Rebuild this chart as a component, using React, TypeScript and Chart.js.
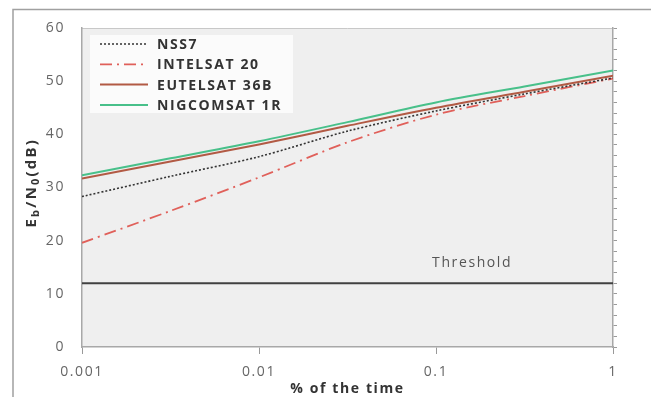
import React, { useEffect, useRef } from 'react';
import { Chart, registerables } from 'chart.js';
Chart.register(...registerables);

// ---- data ----
const timePercent = [0.001, 0.00316, 0.01, 0.0316, 0.1, 0.316, 1];
const xTickValues = [0.001, 0.01, 0.1, 1];
const xTickLabels = ['0.001', '0.01', '0.1', '1'];
const seriesNames = ['NSS7', 'INTELSAT 20', 'EUTELSAT 36B', 'NIGCOMSAT 1R'];
const nss7 = [28.3, 32.1, 35.8, 40.6, 44.4, 47.6, 50.6];
const intelsat20 = [19.6, 25.6, 31.9, 38.5, 43.7, 47.2, 50.5];
const eutelsat36b = [31.7, 34.9, 38.1, 41.6, 45.0, 48.0, 51.0];
const nigcomsat1r = [32.3, 35.5, 38.7, 42.3, 46.0, 49.0, 52.0];
const thresholdX = [0.001, 1];
const thresholdY = [12, 12];
const thresholdLabel = 'Threshold';
const thresholdLabelAt = 0.16;
const xTitle = '% of the time';
const yMin = 0;
const yMax = 60;

const FONT = "'Open Sans', sans-serif";
const seriesValues = [nss7, intelsat20, eutelsat36b, nigcomsat1r];
const seriesColors = ['#333333', '#e0605a', '#b25a44', '#48c08a'];
const seriesDash = [[2, 2], [12, 5, 2, 5], [], []];
const seriesWidth = [1.6, 1.8, 2, 2];
const seriesOrder = [2, 3, 1, 0];

const framePlugin = {
  id: 'frame',
  beforeDraw(chart: any) {
    const { ctx, chartArea: a } = chart;
    ctx.letterSpacing = '1.6px';
    ctx.save();
    ctx.strokeStyle = '#a0a0a0';
    ctx.lineWidth = 1.5;
    ctx.beginPath();
    ctx.moveTo(13, 397);
    ctx.lineTo(13, 9.5);
    ctx.lineTo(651, 9.5);
    ctx.stroke();
    ctx.fillStyle = '#efefef';
    ctx.fillRect(a.left, a.top, a.right - a.left, a.bottom - a.top);
    ctx.strokeStyle = '#c8c8c8';
    ctx.lineWidth = 1;
    ctx.beginPath();
    ctx.moveTo(a.left, a.top + 0.5);
    ctx.lineTo(a.right, a.top + 0.5);
    ctx.stroke();
    ctx.restore();
  },
};

const overlayPlugin = {
  id: 'overlay',
  afterDraw(chart: any) {
    const { ctx, chartArea: a, scales } = chart;
    ctx.save();
    ctx.letterSpacing = '1.6px';
    // threshold label
    ctx.fillStyle = '#555555';
    ctx.font = `14px ${FONT}`;
    ctx.textAlign = 'center';
    ctx.textBaseline = 'middle';
    ctx.fillText(
      thresholdLabel,
      scales.x.getPixelForValue(thresholdLabelAt),
      scales.y.getPixelForValue(thresholdY[0]) - 20
    );
    // legend
    const bx = a.left + 8;
    const by = a.top + 7;
    ctx.fillStyle = '#fbfbfb';
    ctx.fillRect(bx, by, 203, 78);
    ctx.textAlign = 'left';
    ctx.font = `bold 14px ${FONT}`;
    seriesNames.forEach((name, i) => {
      const y = by + 9 + i * 20.3;
      ctx.strokeStyle = seriesColors[i];
      ctx.lineWidth = seriesWidth[i];
      ctx.setLineDash(seriesDash[i]);
      ctx.beginPath();
      ctx.moveTo(bx + 10, y);
      ctx.lineTo(bx + 58, y);
      ctx.stroke();
      ctx.setLineDash([]);
      ctx.fillStyle = '#333333';
      ctx.fillText(name, bx + 67, y + 1);
    });
    // y-axis title with subscripts
    ctx.letterSpacing = '2.2px';
    ctx.translate(31, (a.top + a.bottom) / 2 + 1);
    ctx.rotate(-Math.PI / 2);
    const parts: [string, boolean][] = [['E', false], ['b', true], ['/N', false], ['0', true], ['(dB)', false]];
    const big = `bold 15px ${FONT}`;
    const small = `bold 11px ${FONT}`;
    let total = 0;
    parts.forEach(([t, sub]) => {
      ctx.font = sub ? small : big;
      total += ctx.measureText(t).width;
    });
    let x = -39;
    ctx.fillStyle = '#333333';
    ctx.textBaseline = 'alphabetic';
    parts.forEach(([t, sub]) => {
      ctx.font = sub ? small : big;
      ctx.fillText(t, x, sub ? 8 : 5);
      x += ctx.measureText(t).width;
    });
    ctx.restore();
  },
};

export default function App() {
  const ref = useRef<HTMLCanvasElement>(null);
  useEffect(() => {
    document.body.style.margin = '0';
    const datasets: any[] = seriesNames.map((name, i) => ({
      label: name,
      data: timePercent.map((t, j) => ({ x: t, y: seriesValues[i][j] })),
      borderColor: seriesColors[i],
      borderWidth: seriesWidth[i],
      borderDash: seriesDash[i],
      pointRadius: 0,
      tension: 0.3,
      fill: false,
      order: seriesOrder[i],
    }));
    datasets.push({
      label: thresholdLabel,
      data: thresholdX.map((t, j) => ({ x: t, y: thresholdY[j] })),
      borderColor: '#404040',
      borderWidth: 2,
      pointRadius: 0,
      fill: false,
      order: 4,
    });
    const chart = new Chart(ref.current!, {
      type: 'line',
      data: { datasets },
      plugins: [framePlugin, overlayPlugin],
      options: {
        animation: false,
        responsive: false,
        maintainAspectRatio: false,
        layout: { padding: { top: 28, left: 0, right: 35, bottom: 0 } },
        plugins: { legend: { display: false }, tooltip: { enabled: false } },
        scales: {
          x: {
            type: 'logarithmic',
            min: xTickValues[0],
            max: xTickValues[xTickValues.length - 1],
            afterBuildTicks: (s: any) => {
              s.ticks = xTickValues.map((v) => ({ value: v }));
            },
            afterFit: (s: any) => {
              s.height = 50;
            },
            ticks: {
              autoSkip: false,
              maxRotation: 0,
              color: '#666666',
              font: { family: FONT, size: 14 },
              padding: 10,
              callback: (v: any) => xTickLabels[xTickValues.indexOf(Number(v))] ?? '',
            },
            grid: { drawOnChartArea: false, drawTicks: true, tickLength: 7, color: '#999999' },
            border: { display: true, color: '#a8a8a8', width: 1.5 },
            title: {
              display: true,
              text: xTitle,
              color: '#333333',
              font: { family: FONT, size: 14, weight: 'bold' },
              padding: { top: 0, bottom: 0 },
            },
          },
          y: {
            min: yMin,
            max: yMax,
            afterFit: (s: any) => {
              s.width = 82;
            },
            ticks: {
              stepSize: 10,
              color: '#666666',
              font: { family: FONT, size: 14 },
              padding: 17,
            },
            grid: { display: false, drawTicks: false },
            border: { display: true, color: '#a8a8a8', width: 1.5 },
          },
          y2: {
            position: 'right',
            min: yMin,
            max: yMax,
            afterFit: (s: any) => {
              s.width = 6;
            },
            ticks: { stepSize: 2, display: false },
            grid: { drawOnChartArea: false, drawTicks: true, tickLength: 4, color: '#9a9a9a' },
            border: { display: true, color: '#a8a8a8', width: 1.5 },
          },
        },
      } as any,
    });
    return () => chart.destroy();
  }, []);
  return (
    <div style={{ width: 654, height: 397 }}>
      <canvas ref={ref} width={654} height={397} style={{ display: 'block' }} />
    </div>
  );
}
